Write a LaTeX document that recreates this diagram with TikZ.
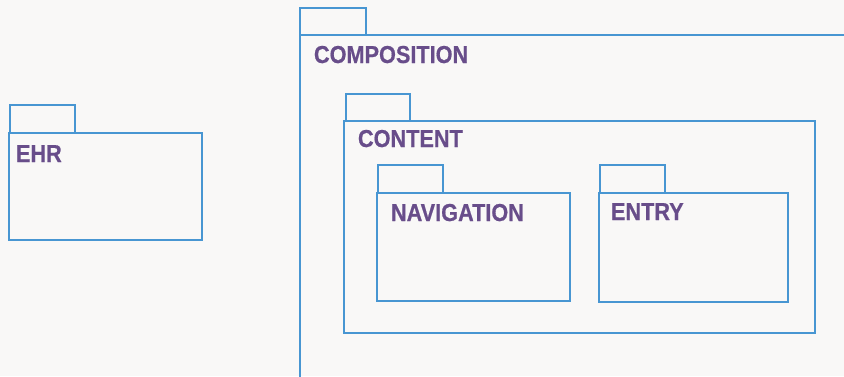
\documentclass[tikz,border=0pt]{standalone}
\usepackage{fontspec}
\newfontfamily\pkgfont[FakeStretch=0.885,FakeBold=0.6]{Liberation Sans}
\definecolor{pkgblue}{RGB}{72,150,210}
\definecolor{pkgpurple}{RGB}{104,77,138}
\definecolor{bgcol}{RGB}{249,248,247}
\begin{document}
\begin{tikzpicture}[x=1pt,y=-1pt,
  box/.style={draw=pkgblue, line width=2.4pt, rectangle, inner sep=0pt, outer sep=0pt, anchor=north west},
  tab/.style={box, anchor=south west},
  pkglabel/.style={text=pkgpurple, font=\pkgfont\bfseries\fontsize{24.5}{24.5}\selectfont, anchor=base west, inner sep=0pt, outer sep=0pt}]
\fill[bgcol] (0,0) rectangle (844,376);
\useasboundingbox (0,0) rectangle (844,376);
\clip (0,0) rectangle (844,376);
% EHR
\node[box, minimum width=193, minimum height=107] (ehr) at (9,133) {};
\node[tab, minimum width=65, minimum height=28] (ehrtab) at (10,133) {};
\node[pkglabel] (ehrlbl) at (16,162) {EHR};
% COMPOSITION
\node[box, minimum width=570, minimum height=360] (comp) at (300,35) {};
\node[tab, minimum width=66, minimum height=27] (comptab) at (300,35) {};
\node[pkglabel] (complbl) at (314,63) {COMPOSITION};
% CONTENT
\node[box, minimum width=471, minimum height=212] (cont) at (344,121) {};
\node[tab, minimum width=64, minimum height=27] (conttab) at (346,121) {};
\node[pkglabel] (contlbl) at (358,147) {CONTENT};
% NAVIGATION
\node[box, minimum width=193, minimum height=108] (nav) at (377,193) {};
\node[tab, minimum width=65, minimum height=28] (navtab) at (378,193) {};
\node[pkglabel] (navlbl) at (391,221) {NAVIGATION};
% ENTRY
\node[box, minimum width=189, minimum height=109] (entry) at (599,193) {};
\node[tab, minimum width=65, minimum height=28] (entrytab) at (600,193) {};
\node[pkglabel] (entrylbl) at (611,220) {ENTRY};
\end{tikzpicture}
\end{document}
